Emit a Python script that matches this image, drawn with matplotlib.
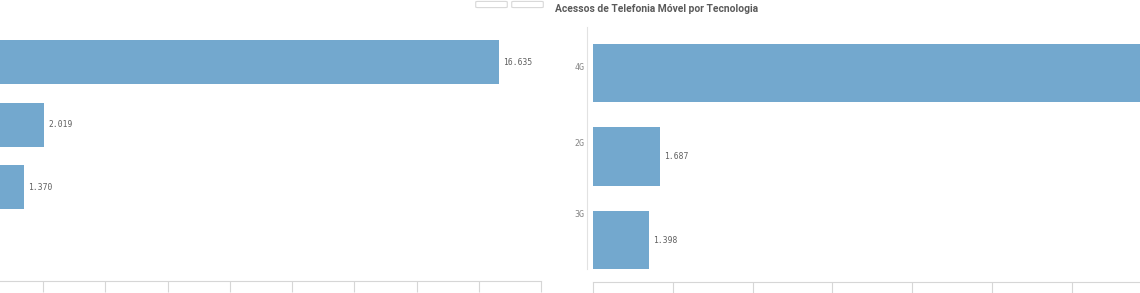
import matplotlib
matplotlib.use('Agg')
import matplotlib.pyplot as plt
from matplotlib.patches import FancyBboxPatch
import matplotlib.transforms as mtransforms

# Left chart (cut off on the left in the screenshot)
left_values = [16.635, 2.019, 1.370]
left_ticks = [0, 2, 4, 6, 8, 10, 12, 14, 16, 18]

# Right chart: Acessos de Telefonia Móvel por Tecnologia
tech = ['4G', '2G', '3G']
tech_values = [16.94, 1.687, 1.398]
right_ticks = [0, 2, 4, 6, 8, 10, 12, 14, 16, 18]

bar_color = '#73a8ce'
axis_color = '#d6d6d6'
text_color = '#606060'
W, H = 1140, 293

fig = plt.figure(figsize=(W / 100, H / 100), dpi=100)

# Left axes: 0 sits at x=-19px, 18 at x=541px
ax1 = fig.add_axes([-19 / W, (H - 281) / H, 560 / W, 250 / H])
pos = range(len(left_values))
bars1 = ax1.barh(pos, left_values, height=0.7, color=bar_color)
ax1.bar_label(bars1, labels=[f'{v:.3f}' for v in left_values], padding=3,
              fontsize=5.8, family='DejaVu Sans Mono', color=text_color)
ax1.set_xlim(0, 18)
ax1.set_ylim(3.5, -0.5)
ax1.set_xticks(left_ticks)
ax1.set_yticks([])
ax1.tick_params(axis='x', length=8, color=axis_color, labelbottom=False)
for s in ['top', 'right', 'left']:
    ax1.spines[s].set_visible(False)
ax1.spines['bottom'].set_color(axis_color)

# Right axes: 0 at x=593px, 2 units per 79.8px
ax2 = fig.add_axes([593 / W, (H - 282) / H, 718 / W, 251 / H])
for s in ['top', 'right']:
    ax2.spines[s].set_visible(False)
ax2.spines['left'].set_position(('outward', 4.5))
ax2.spines['left'].set_bounds(-0.55, 2.35)
ax2.spines['left'].set_color('#e2e2e2')
ax2.spines['bottom'].set_color(axis_color)

pos = range(len(tech))
bars2 = ax2.barh(pos, tech_values, height=0.7, color=bar_color)
# the 4G label lies beyond the cropped edge, so only the short bars get one
shown = ['' if v > 10 else f'{v:.3f}' for v in tech_values]
ax2.bar_label(bars2, labels=shown, padding=3,
              fontsize=5.8, family='DejaVu Sans Mono', color=text_color)
ax2.set_xlim(0, 18)
ax2.set_ylim(2.5, -0.5)
ax2.set_xticks(right_ticks)
ax2.tick_params(axis='x', length=8, color=axis_color, labelbottom=False)
ax2.set_yticks(list(pos))
ax2.set_yticklabels(tech)
ax2.tick_params(axis='y', length=0, pad=1.5)
# in the screenshot the category labels drift upwards from the bar centres
lift_px = [6, 14, 27]
for lab, d in zip(ax2.get_yticklabels(), lift_px):
    lab.set_fontsize(6)
    lab.set_family('DejaVu Sans Mono')
    lab.set_color('#858585')
    lab.set_transform(lab.get_transform() +
                      mtransforms.ScaledTranslation(0, d / 100, fig.dpi_scale_trans))

fig.text(555 / W, 1 - 9 / H, 'Acessos de Telefonia Móvel por Tecnologia',
         fontsize=7.4, fontweight='bold', color='#5a5a5a', va='center', ha='left',
         family=['Roboto', 'DejaVu Sans'])

# toolbar buttons peeking in at the top
for x0 in [478, 514]:
    fig.patches.append(FancyBboxPatch((x0 / W, 1 - 7 / H), 27 / W, 5 / H,
                                      boxstyle='round,pad=0.002', transform=fig.transFigure,
                                      fc='white', ec='#d8d8d8', lw=0.8))

fig.savefig('out.png', dpi=100)
